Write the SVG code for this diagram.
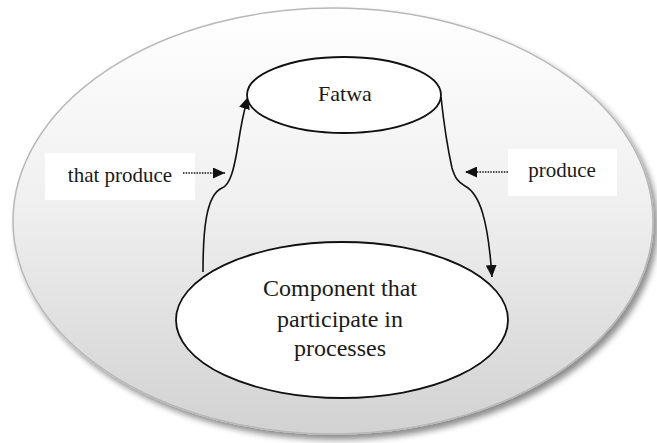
<svg xmlns="http://www.w3.org/2000/svg" width="657" height="443" viewBox="0 0 657 443">
<style>
text{fill:#1a1a1a;text-anchor:middle}
.node{fill:#fff;stroke:#111;stroke-width:1.8}
.conn{fill:none;stroke:#111;stroke-width:1.6}
.dot{fill:none;stroke:#111;stroke-width:1.4;stroke-dasharray:1.5 1.2}
</style>
<defs>
<linearGradient id="bg" x1="0" y1="0" x2="0" y2="1">
<stop offset="0" stop-color="#ffffff"/>
<stop offset="0.45" stop-color="#f0f0f0"/>
<stop offset="1" stop-color="#d2d2d2"/>
</linearGradient>
<filter id="sh" x="-5%" y="-5%" width="112%" height="115%">
<feGaussianBlur in="SourceAlpha" stdDeviation="3"/>
<feOffset dx="4" dy="5"/>
<feComponentTransfer><feFuncA type="linear" slope="0.45"/></feComponentTransfer>
<feMerge><feMergeNode/><feMergeNode in="SourceGraphic"/></feMerge>
</filter>
<marker id="ah2" viewBox="0 0 10 10" refX="10" refY="5" markerWidth="12" markerHeight="11" markerUnits="userSpaceOnUse" orient="auto" preserveAspectRatio="none">
<path d="M0,0 L10,5 L0,10 z" fill="#111"/>
</marker>
</defs>
<g id="background">
<ellipse cx="333" cy="221" rx="320" ry="213" fill="url(#bg)" stroke="#b8b8b8" stroke-width="1.5" filter="url(#sh)"/>
</g>
<g font-family="Liberation Serif, DejaVu Serif, serif">
<g id="label-left">
<rect x="45" y="153" width="150" height="47" fill="#fff"/>
<text x="120" y="182" font-size="21">that produce</text>
</g>
<g id="label-right">
<rect x="508" y="149" width="109" height="47" fill="#fff"/>
<text x="562" y="177" font-size="21">produce</text>
</g>
<g id="connectors">
<path class="conn" d="M203,272 C203,230 206,195 222,188 C230,185 234,170 238,145 C241,125 244,110 248,97" marker-end="url(#ah2)"/>
<path class="conn" d="M441,97 C444,125 448,150 452,168 C455,178 458,182 465,186 C480,194 488,220 492,277" marker-end="url(#ah2)"/>
<path class="dot" d="M183,173 L225,173" marker-end="url(#ah2)"/>
<path class="dot" d="M508,172 L465,172" marker-end="url(#ah2)"/>
</g>
<g id="fatwa">
<ellipse class="node" cx="344" cy="95" rx="97" ry="38"/>
<text x="345" y="101" font-size="22">Fatwa</text>
</g>
<g id="component">
<ellipse class="node" cx="342" cy="320" rx="166" ry="78"/>
<text x="340" y="296" font-size="24">Component that</text>
<text x="340" y="327" font-size="24">participate in</text>
<text x="340" y="356" font-size="24">processes</text>
</g>
</g>
</svg>
